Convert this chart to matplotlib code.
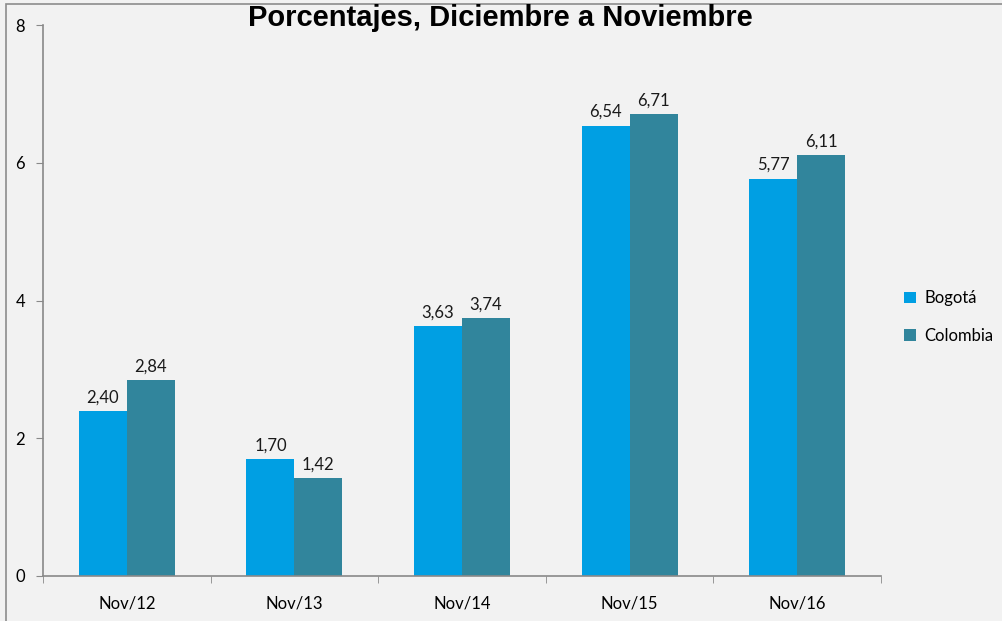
import matplotlib
matplotlib.use("Agg")
import matplotlib.pyplot as plt
from matplotlib.patches import Rectangle
import numpy as np

categories = ["Nov/12", "Nov/13", "Nov/14", "Nov/15", "Nov/16"]
bogota = [2.40, 1.70, 3.63, 6.54, 5.77]
colombia = [2.84, 1.42, 3.74, 6.71, 6.11]
yticks = [0, 2, 4, 6, 8]

BLUE, TEAL, GRID = "#009FE3", "#31859C", "#898989"
BG = "#F2F2F2"
FONT = "Lato"

W, H = 1002, 621
fig = plt.figure(figsize=(W / 100, H / 100), dpi=100, facecolor=BG)
fig.patches.append(Rectangle((6 / W, -0.1), 1.2, 1 - 4 / H + 0.1, transform=fig.transFigure,
                             fill=False, edgecolor="#8c8c8c", lw=1.2))
ax = fig.add_axes([43 / W, 1 - 576 / H, (881 - 43) / W, (576 - 25) / H])
ax.set_facecolor(BG)

x = np.arange(len(categories))
bw = 0.286
b1 = ax.bar(x - bw / 2, bogota, bw, color=BLUE, label="Bogotá")
b2 = ax.bar(x + bw / 2, colombia, bw, color=TEAL, label="Colombia")
for bars, vals in ((b1, bogota), (b2, colombia)):
    for r, v in zip(bars, vals):
        ax.annotate(f"{v:.2f}".replace(".", ","), (r.get_x() + r.get_width() / 2, v),
                    textcoords="offset points", xytext=(0, 4), ha="center", va="bottom",
                    fontsize=12, family=FONT, color="#1a1a1a")

ax.set_xlim(-0.5, len(categories) - 0.5)
ax.set_ylim(0, 8)
ax.set_yticks(yticks)
ax.set_yticklabels([str(t) for t in yticks], family=FONT, fontsize=12)
ax.set_xticks(x)
ax.set_xticklabels(categories, family=FONT, fontsize=12)
ax.set_xticks(np.arange(len(categories) + 1) - 0.5, minor=True)
ax.tick_params(axis="x", which="major", length=0, pad=14)
ax.tick_params(axis="x", which="minor", length=5, color=GRID, direction="out")
ax.tick_params(axis="y", length=5, color=GRID, direction="out", pad=8)
for s in ("top", "right"):
    ax.spines[s].set_visible(False)
for s in ("left", "bottom"):
    ax.spines[s].set_color(GRID)
    ax.spines[s].set_linewidth(1.2)

fig.text(500 / W, 1 - 18 / H, "Porcentajes, Diciembre a Noviembre", ha="center", va="center",
         fontsize=21, fontweight="bold", family="Liberation Sans")

leg = ax.legend(loc="center left", bbox_to_anchor=(1.01, 0.47), frameon=False,
                prop={"family": FONT, "size": 12}, handlelength=0.7, handleheight=0.7,
                handletextpad=0.5, labelspacing=1.3)

fig.savefig("out.png", dpi=100, facecolor=BG)
